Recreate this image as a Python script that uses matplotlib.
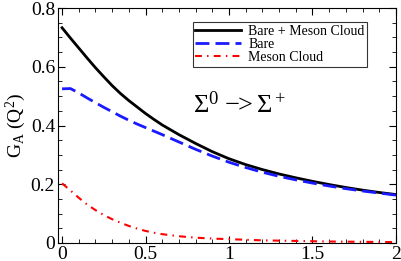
import matplotlib
matplotlib.use('Agg')
import matplotlib.pyplot as plt
from matplotlib.ticker import MultipleLocator

plt.rcParams['font.family'] = ['Liberation Serif', 'DejaVu Serif']
plt.rcParams['mathtext.fontset'] = 'custom'
plt.rcParams['mathtext.rm'] = 'Liberation Serif'
plt.rcParams['mathtext.it'] = 'Liberation Serif'

# Q^2 (GeV^2) sample points
q2 = [0.0, 0.05, 0.1, 0.15, 0.2, 0.25, 0.3, 0.35, 0.4, 0.45, 0.5, 0.55, 0.6, 0.7,
      0.8, 0.9, 1.0, 1.1, 1.2, 1.3, 1.4, 1.5, 1.6, 1.7, 1.8, 1.9, 2.0]
total = [0.733, 0.698, 0.664, 0.630, 0.597, 0.566, 0.536, 0.509, 0.485, 0.463,
         0.441, 0.421, 0.402, 0.369, 0.339, 0.311, 0.287, 0.267, 0.250, 0.235,
         0.222, 0.210, 0.199, 0.189, 0.180, 0.172, 0.165]
bare = [0.525, 0.526, 0.511, 0.494, 0.478, 0.462, 0.447, 0.432, 0.418, 0.405,
        0.393, 0.381, 0.369, 0.344, 0.319, 0.296, 0.275, 0.257, 0.241, 0.227,
        0.215, 0.204, 0.194, 0.185, 0.177, 0.170, 0.163]
cloud = [0.203, 0.179, 0.154, 0.131, 0.112, 0.095, 0.081, 0.069, 0.058, 0.049,
         0.041, 0.035, 0.030, 0.023, 0.018, 0.015, 0.013, 0.011, 0.009, 0.008,
         0.007, 0.006, 0.005, 0.0045, 0.004, 0.0035, 0.003]

fig = plt.figure(figsize=(4.02, 2.61), dpi=100)
ax = fig.add_axes([0.144, 0.069, 0.841, 0.900])

ax.plot(q2, total, color='black', lw=2, label='Bare + Meson Cloud')
ax.plot(q2, bare, color='#1a1aff', lw=2, ls=(0, (5, 2.2)), label='Bare')
ax.plot(q2, cloud, color='red', lw=1.5, ls=(0, (3.3, 2.5, 0.7, 2.5)), label='Meson Cloud')

ax.set_xlim(-0.025, 2.0)
ax.set_ylim(0, 0.8)
ax.xaxis.set_minor_locator(MultipleLocator(0.1))
ax.yaxis.set_minor_locator(MultipleLocator(0.05))
ax.set_xticks([0, 0.5, 1, 1.5, 2])
ax.set_xticklabels(['0', '0.5', '1', '1.5', '2'])
ax.set_yticks([0, 0.2, 0.4, 0.6, 0.8])
ax.set_yticklabels(['0', '0.2', '0.4', '0.6', '0.8'])
ax.tick_params(which='both', direction='in', top=True, right=True, labelsize=14, pad=2)
ax.tick_params(which='major', length=5)
ax.tick_params(which='minor', length=3)

ax.set_ylabel(r'G$_\mathrm{A}$ (Q$^2$)', fontsize=14, labelpad=2)

ax.text(0.40, 0.555, r'$\Sigma^0$ $-\!\!>\Sigma^+$', fontsize=19,
        transform=ax.transAxes)

leg = ax.legend(loc='upper right', bbox_to_anchor=(0.915, 0.94), fontsize=10,
                frameon=True, fancybox=False, edgecolor='black', handlelength=3.3,
                borderpad=0.2, labelspacing=0.0, handletextpad=0.5, borderaxespad=0)
leg.get_frame().set_linewidth(0.8)

plt.savefig('out.png', dpi=100)
